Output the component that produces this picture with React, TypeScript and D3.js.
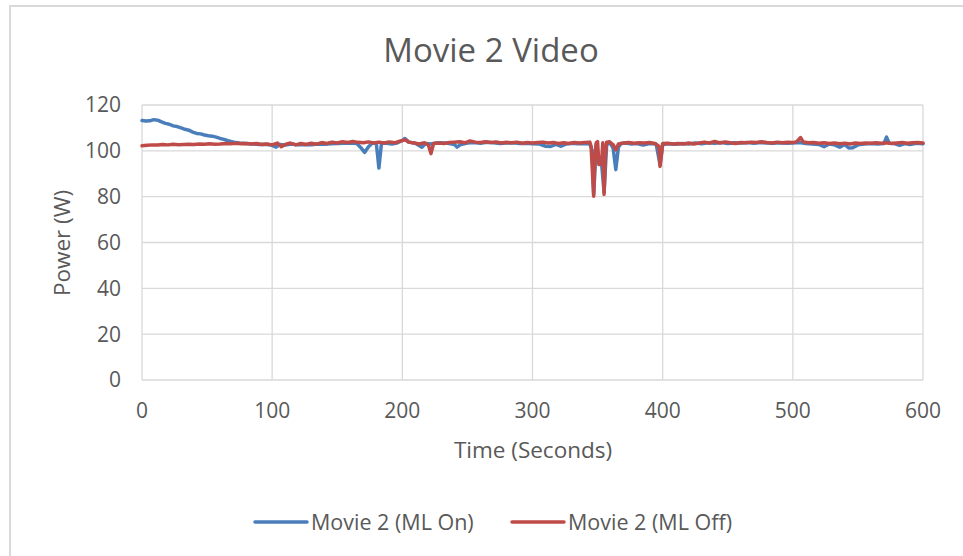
import * as d3 from 'd3';
import React, { FC, useEffect, useRef } from 'react';

// [seconds, watts]
const mlOn: [number, number][] = [
	[0, 113.2], [3, 113.0], [6, 113.1], [9, 113.6], [12, 113.4], [15, 112.6], [18, 112.0], [21, 111.6],
	[24, 110.9], [27, 110.6], [30, 110.0], [33, 109.4], [36, 109.0], [39, 108.2], [42, 107.6], [45, 107.4],
	[48, 106.9], [51, 106.6], [54, 106.4], [57, 106.0], [60, 105.4], [63, 105.0], [66, 104.4], [69, 104.0],
	[72, 103.6], [75, 103.4], [80, 103.2], [85, 103.0], [90, 102.8], [95, 102.9], [100, 102.4], [103, 101.6],
	[106, 102.8], [110, 102.5], [115, 103.0], [120, 102.6], [125, 102.8], [130, 102.7], [135, 103.0],
	[140, 102.9], [145, 103.1], [150, 103.2], [155, 103.3], [160, 103.4], [165, 103.2], [168, 101.5],
	[171, 99.3], [174, 101.8], [177, 103.4], [180, 103.2], [181, 98], [182, 92.5], [183, 98], [184, 103.3],
	[188, 103.3], [192, 103.0], [196, 103.4], [200, 104.5], [202, 105.4], [205, 103.8], [210, 103.3],
	[215, 101.6], [218, 103.2], [222, 103.0], [226, 103.4], [230, 103.5], [235, 103.3], [240, 102.8],
	[242, 101.6], [245, 102.8], [250, 103.4], [255, 103.6], [260, 103.3], [265, 103.7], [270, 103.5],
	[275, 103.2], [280, 103.4], [285, 103.5], [290, 103.2], [295, 103.3], [300, 103.1], [305, 103.0],
	[310, 102.0], [314, 101.9], [318, 102.8], [322, 102.0], [326, 103.0], [330, 103.3], [335, 103.1],
	[340, 103.2], [344, 103.0], [346, 100], [347, 81], [349, 103], [351, 95], [353, 95], [355, 82],
	[357, 103], [360, 103.2], [362, 101], [364, 91.8], [366, 101.5], [368, 103.2], [372, 103.4],
	[376, 103.0], [380, 103.2], [385, 102.5], [390, 103.2], [395, 103.0], [398, 94], [400, 102.8],
	[405, 103.1], [410, 102.9], [415, 103.2], [420, 103.0], [425, 103.4], [430, 103.1], [435, 103.5],
	[440, 103.3], [445, 103.6], [450, 103.2], [455, 103.5], [460, 103.4], [465, 103.6], [470, 103.3],
	[475, 103.6], [480, 103.4], [485, 103.3], [490, 103.5], [495, 103.3], [500, 103.4], [505, 103.6],
	[510, 103.2], [515, 103.0], [520, 102.8], [524, 101.8], [528, 103.0], [532, 102.6], [536, 101.6],
	[540, 102.8], [543, 101.2], [546, 101.3], [550, 102.6], [555, 103.0], [560, 103.2], [565, 103.0],
	[570, 103.2], [572, 106], [574, 103.3], [578, 103.2], [582, 102.4], [586, 103.2], [590, 102.8],
	[595, 103.3], [600, 103.1],
];

const mlOff: [number, number][] = [
	[0, 102.2], [4, 102.4], [8, 102.6], [12, 102.5], [16, 102.8], [20, 102.6], [24, 102.9], [28, 102.7],
	[32, 102.8], [36, 102.9], [40, 102.8], [44, 103.0], [48, 102.9], [52, 103.1], [56, 102.9], [60, 103.0],
	[64, 103.2], [68, 103.1], [72, 103.3], [76, 103.1], [80, 103.2], [84, 103.0], [88, 103.2], [92, 102.8],
	[96, 103.0], [100, 102.6], [104, 103.4], [107, 101.8], [110, 102.8], [114, 103.4], [118, 102.6],
	[122, 103.2], [126, 102.8], [130, 103.3], [134, 102.9], [138, 103.6], [142, 103.2], [146, 103.8],
	[150, 103.4], [154, 104.0], [158, 103.6], [162, 104.1], [166, 103.7], [170, 103.5], [174, 103.9],
	[178, 103.4], [182, 103.8], [186, 103.4], [190, 103.9], [194, 103.5], [198, 104.2], [202, 104.8],
	[205, 103.8], [209, 103.4], [213, 103.0], [217, 103.5], [220, 102.5], [222, 98.8], [224, 103.2],
	[228, 103.4], [232, 103.2], [236, 103.6], [240, 103.8], [244, 104.0], [248, 103.5], [252, 104.3],
	[256, 103.8], [260, 103.6], [264, 104.0], [268, 103.6], [272, 103.9], [276, 103.4], [280, 103.7],
	[284, 103.5], [288, 103.8], [292, 103.3], [296, 103.6], [300, 103.4], [304, 103.6], [308, 103.8],
	[312, 103.4], [316, 103.6], [320, 103.2], [324, 103.5], [328, 103.2], [332, 103.6], [336, 103.4],
	[340, 103.6], [344, 103.8], [345, 102], [347, 80.2], [348, 98], [349, 103.6], [350, 104], [351, 94],
	[353, 94.5], [354, 103.5], [355, 81], [356, 98], [357, 103.8], [359, 104], [362, 102.6], [364, 100.4],
	[366, 103], [370, 103.4], [374, 103.6], [378, 103.3], [382, 103.5], [386, 103.4], [390, 103.6],
	[394, 103.2], [397, 102], [398, 93.2], [399, 98], [400, 103.2], [404, 103.3], [408, 103.0],
	[412, 103.2], [416, 103.0], [420, 103.4], [424, 103.0], [428, 103.4], [432, 103.8], [436, 103.4],
	[440, 104.1], [444, 103.4], [448, 103.9], [452, 103.5], [456, 103.2], [460, 103.6], [464, 103.5],
	[468, 103.8], [472, 103.6], [476, 104.0], [480, 103.6], [484, 103.4], [488, 103.8], [492, 103.5],
	[496, 103.7], [500, 103.6], [503, 104.0], [506, 105.8], [508, 103.9], [512, 103.5], [516, 103.6],
	[520, 103.3], [524, 103.5], [528, 103.2], [532, 103.4], [536, 103.1], [540, 103.3], [544, 103.0],
	[548, 103.4], [552, 103.2], [556, 103.4], [560, 103.3], [564, 103.5], [568, 103.3], [572, 103.5],
	[576, 103.2], [580, 103.4], [584, 103.6], [588, 103.3], [592, 103.5], [596, 103.6], [600, 103.4],
];

const xTicks = [0, 100, 200, 300, 400, 500, 600];
const yTicks = [0, 20, 40, 60, 80, 100, 120];
const seriesNames = ['Movie 2 (ML On)', 'Movie 2 (ML Off)'];
const seriesColors = ['#4A7EBB', '#BE4B48'];

const App: FC = () => {
	const ref = useRef<SVGSVGElement>(null);
	const width = 963;
	const height = 556;
	const margin = { top: 105, right: 40, bottom: 176, left: 142 };
	const font = "'Open Sans', sans-serif";
	const textColor = '#595959';
	const gridColor = '#d9d9d9';

	useEffect(() => {
		const svg = d3.select(ref.current);
		svg.selectAll('*').remove();

		const x = d3
			.scaleLinear()
			.domain([0, 600])
			.range([margin.left, width - margin.right]);
		const y = d3
			.scaleLinear()
			.domain([0, 120])
			.range([height - margin.bottom, margin.top]);

		svg.append('rect').attr('width', width).attr('height', height).attr('fill', '#fff');
		svg.append('rect')
			.attr('x', 10)
			.attr('y', 6)
			.attr('width', width + 10)
			.attr('height', height + 10)
			.attr('fill', 'none')
			.attr('stroke', gridColor)
			.attr('stroke-width', 2);

		// gridlines
		svg.append('g')
			.selectAll('line')
			.data(yTicks)
			.join('line')
			.attr('x1', x(0))
			.attr('x2', x(600))
			.attr('y1', (d: any) => y(d))
			.attr('y2', (d: any) => y(d))
			.attr('stroke', gridColor)
			.attr('stroke-width', 1.3);
		svg.append('g')
			.selectAll('line')
			.data(xTicks)
			.join('line')
			.attr('x1', (d: any) => x(d))
			.attr('x2', (d: any) => x(d))
			.attr('y1', y(0))
			.attr('y2', y(120))
			.attr('stroke', gridColor)
			.attr('stroke-width', 1.3);

		// tick labels
		svg.append('g')
			.attr('font-family', font)
			.attr('font-size', 21)
			.attr('fill', textColor)
			.attr('text-anchor', 'end')
			.selectAll('text')
			.data(yTicks)
			.join('text')
			.attr('x', 121)
			.attr('y', (d: any) => y(d))
			.attr('dy', '0.35em')
			.text((d: any) => d);
		svg.append('g')
			.attr('font-family', font)
			.attr('font-size', 21)
			.attr('fill', textColor)
			.attr('text-anchor', 'middle')
			.selectAll('text')
			.data(xTicks)
			.join('text')
			.attr('x', (d: any) => x(d))
			.attr('y', 411)
			.attr('dy', '0.35em')
			.text((d: any) => d);

		// lines
		const line = d3
			.line<[number, number]>()
			.x(d => x(d[0]))
			.y(d => y(d[1]));
		[mlOn, mlOff].forEach((s, i) => {
			svg.append('path')
				.datum(s)
				.attr('d', line)
				.attr('fill', 'none')
				.attr('stroke', seriesColors[i])
				.attr('stroke-width', 3.5)
				.attr('stroke-linejoin', 'round')
				.attr('stroke-linecap', 'round');
		});

		// titles
		svg.append('text')
			.attr('x', 491)
			.attr('y', 50)
			.attr('dy', '0.35em')
			.attr('text-anchor', 'middle')
			.attr('font-family', font)
			.attr('font-size', 33)
			.attr('fill', textColor)
			.text('Movie 2 Video');
		svg.append('text')
			.attr('x', 533)
			.attr('y', 450)
			.attr('dy', '0.35em')
			.attr('text-anchor', 'middle')
			.attr('font-family', font)
			.attr('font-size', 22.5)
			.attr('fill', textColor)
			.text('Time (Seconds)');
		svg.append('text')
			.attr('transform', 'translate(62,243) rotate(-90)')
			.attr('dy', '0.35em')
			.attr('text-anchor', 'middle')
			.attr('font-family', font)
			.attr('font-size', 22.5)
			.attr('fill', textColor)
			.text('Power (W)');

		// legend
		const legendX = [255, 512];
		const lg = svg.append('g').attr('font-family', font).attr('font-size', 21.5).attr('fill', textColor);
		seriesNames.forEach((name, i) => {
			lg.append('line')
				.attr('x1', legendX[i])
				.attr('x2', legendX[i] + 52)
				.attr('y1', 522)
				.attr('y2', 522)
				.attr('stroke', seriesColors[i])
				.attr('stroke-width', 3.5)
				.attr('stroke-linecap', 'round');
			lg.append('text')
				.attr('x', legendX[i] + 56)
				.attr('y', 522)
				.attr('dy', '0.35em')
				.text(name);
		});
	}, []);

	return (
		<svg
			ref={ref}
			width={width}
			height={height}
			style={{ position: 'absolute', left: 0, top: 0, display: 'block' }}
		/>
	);
};

export default App;
